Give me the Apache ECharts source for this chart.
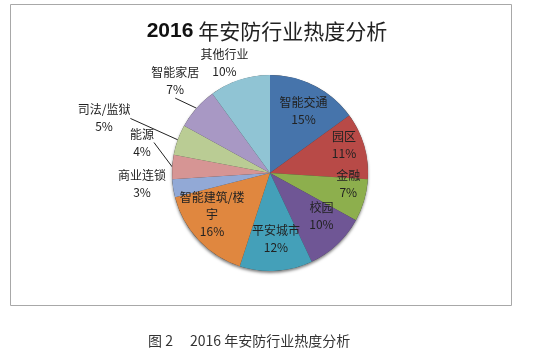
<!DOCTYPE html>
<html><head><meta charset="utf-8">
<script src="https://cdn.jsdelivr.net/npm/echarts@6/dist/echarts.min.js"></script>
<style>html,body{margin:0;padding:0;background:#fff}#c{width:539px;height:352px}</style>
</head><body><div id="c"></div>
<script>
// ---- data ----
const categories = ['智能交通','园区','金融','校园','平安城市','智能建筑/楼宇','商业连锁','能源','司法/监狱','智能家居','其他行业'];
const shares = [15, 11, 7, 10, 12, 16, 3, 4, 5, 7, 10];
const chartTitleNum = '2016';
const chartTitleText = '年安防行业热度分析';
const captionText = '图 2\u3000 2016 年安防行业热度分析';

// ---- style ----
const colors = ['#4674AB','#B84A47','#8DAF4D','#6F5695','#44A0B9','#E0873F','#92A9D6','#D69594','#BACC94','#A898C4','#90C4D4'];
const CX = 270, CY = 173, R = 98;
// label placement: distance from centre, angular nudge (deg), leader line
const labelPlace = {
  '智能交通': {dist: 70.5, turn: 1.4},
  '园区': {dist: 79, turn: -4.3},
  '金融': {dist: 79, turn: -8.2},
  '校园': {dist: 67, turn: -7},
  '平安城市': {dist: 66, turn: -1.6},
  '智能建筑/楼宇': {dist: 71, turn: 7.9, width: 66},
  '商业连锁': {dist: 128.5, turn: 4, outer: true},
  '能源': {dist: 131.6, turn: 9.8, outer: true, line: true},
  '司法/监狱': {dist: 174.7, turn: -1.6, outer: true, line: true},
  '智能家居': {dist: 132, turn: 2.7, outer: true, line: true},
  '其他行业': {dist: 119.5, turn: -4.4, outer: true}
};

const total = shares.reduce((a, b) => a + b, 0);
const mids = [];
let acc = 0;
shares.forEach(v => { mids.push((acc + v / 2) / total * 360); acc += v; });

const font = '"Noto Sans CJK SC", "Microsoft YaHei", sans-serif';

const pieData = categories.map((name, i) => {
  const s = labelPlace[name];
  const item = {
    name: name,
    value: shares[i],
    itemStyle: {color: colors[i]},
    label: {position: s.outer ? 'outside' : 'inside'},
    labelLine: {show: !!s.line}
  };
  if (s.width) { item.label.width = s.width; item.label.overflow = 'break'; }
  return item;
});

const chart = echarts.init(document.getElementById('c'), null, {renderer: 'canvas'});
chart.setOption({
  backgroundColor: '#fff',
  animation: false,
  title: [{
    text: '{a|' + chartTitleNum + '} {b|' + chartTitleText + '}',
    left: 262, top: 16, textAlign: 'center',
    textStyle: {
      rich: {
        a: {fontSize: 21, fontWeight: 'bold', color: '#111', fontFamily: 'Liberation Sans, Arial, sans-serif'},
        b: {fontSize: 21, fontWeight: 'normal', color: '#222', fontFamily: font}
      }
    }
  }, {
    text: captionText,
    left: 143, top: 329,
    textStyle: {fontSize: 14, fontWeight: 'normal', color: '#333', fontFamily: font}
  }],
  graphic: [{
    type: 'rect', silent: true, z: -1,
    shape: {x: 10.5, y: 4.5, width: 501, height: 301},
    style: {fill: 'none', stroke: '#A8A8A8', lineWidth: 1}
  }],
  series: [{
    // whole-pie backing that only casts the soft bottom shadow
    type: 'pie',
    center: [CX, CY],
    radius: [0, R],
    silent: true,
    z: 1,
    label: {show: false},
    labelLine: {show: false},
    itemStyle: {color: '#3a3a3a', borderWidth: 0, shadowBlur: 3, shadowOffsetY: 2, shadowColor: 'rgba(0,0,0,0.5)'},
    data: [{name: 'all', value: total}]
  }, {
    type: 'pie',
    z: 2,
    center: [CX, CY],
    radius: [0, R],
    startAngle: 90,
    clockwise: true,
    percentPrecision: 0,
    avoidLabelOverlap: false,
    silent: true,
    itemStyle: {borderWidth: 0},
    label: {
      show: true,
      formatter: '{b}\n{d}%',
      fontSize: 12,
      lineHeight: 17,
      color: '#222',
      fontFamily: font
    },
    labelLine: {
      length: 10, length2: 0,
      lineStyle: {color: '#222', width: 1}
    },
    labelLayout: function (p) {
      const s = labelPlace[categories[p.dataIndex]];
      const a = (mids[p.dataIndex] + s.turn) * Math.PI / 180;
      return {
        x: CX + s.dist * Math.sin(a),
        y: CY - s.dist * Math.cos(a),
        align: 'center',
        verticalAlign: 'middle'
      };
    },
    data: pieData
  }]
});
</script>
</body></html>
